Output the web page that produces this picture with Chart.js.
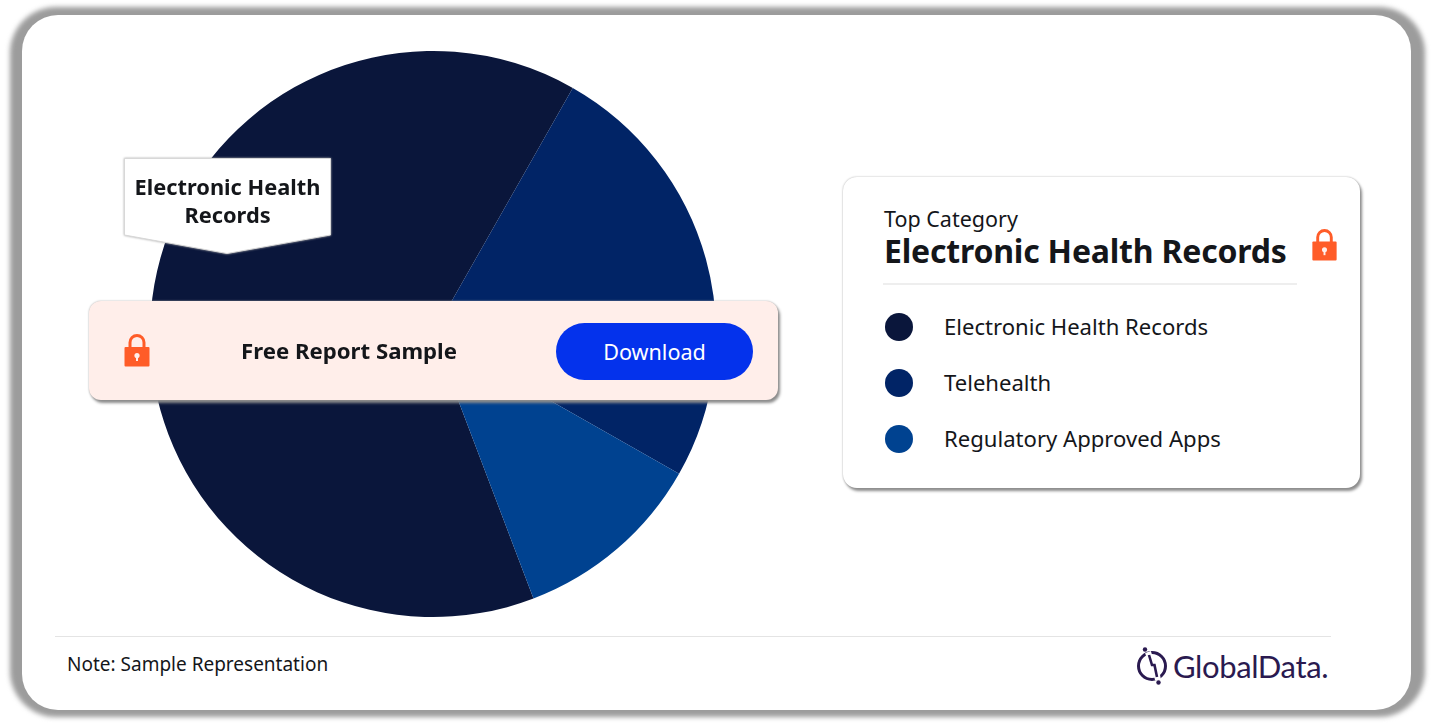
<!DOCTYPE html>
<html lang="en">
  <head>
    <title>Top Category</title>
    <meta charset="utf-8">
    <script src="https://cdn.jsdelivr.net/npm/chart.js@4"></script>
    <style>
      html, body { margin: 0; padding: 0; background: #fff; }
      body { width: 1433px; height: 726px; position: relative; overflow: hidden; font-family: "Noto Sans", sans-serif; color: #14161a; }
      body > div, body > svg, #pieWrap { position: absolute; }
      #frameShadow { left: 10px; top: 7px; width: 1415px; height: 710px; border-radius: 46px; background: #9c9c9c; filter: blur(2.5px); }
      #frame { left: 22px; top: 15px; width: 1389px; height: 695px; border-radius: 36px; background: #fff; }
      #pieWrap { left: 133px; top: 34px; width: 600px; height: 600px; }
      #callout { left: 124px; top: 158px; width: 207px; height: 96px; filter: drop-shadow(0 0 1px #aaa); }
      #calloutText { left: 124px; top: 173px; width: 207px; text-align: center; font-weight: 700; font-size: 21.8px; line-height: 28px; }
      #banner { left: 89px; top: 301px; width: 689px; height: 99px; border-radius: 12px; background: #ffeeea; box-shadow: 2px 3px 3px #8c8c8c, 0 0 2px #aaa; }
      #bannerText { left: 159px; top: 336px; width: 380px; text-align: center; font-weight: 700; font-size: 22.2px; line-height: 30px; }
      #download { left: 556px; top: 323px; width: 197px; height: 57px; border-radius: 29px; background: #0432ec; color: #fff; text-align: center; font-size: 21.6px; line-height: 57px; }
      #card { left: 843px; top: 177px; width: 517px; height: 311px; border-radius: 14px; background: #fff; box-shadow: 2px 3px 3px #8c8c8c, 0 0 2px #aaa; }
      #topLabel { left: 884px; top: 204px; font-size: 21.5px; line-height: 30px; }
      #topValue { left: 884px; top: 229px; font-size: 32px; line-height: 44px; font-weight: 700; white-space: nowrap; letter-spacing: -0.2px; }
      #cardRule { left: 883px; top: 283px; width: 414px; height: 2px; background: #eeeeee; }
      .legendDot { width: 28px; height: 28px; border-radius: 50%; left: 885px; }
      .legendText { left: 944px; font-size: 22.1px; line-height: 30px; white-space: nowrap; }
      #footRule { left: 55px; top: 636px; width: 1276px; height: 1px; background: #e4e4e4; }
      #note { left: 67px; top: 651px; font-size: 19px; line-height: 26px; }
      #logoText { left: 1173px; top: 644px; font-family: Lato, sans-serif; font-size: 31px; line-height: 44px; color: #2a1a50; letter-spacing: -0.4px; }
    </style>
  </head>
  <body>
    <div id="frameShadow"></div>
    <div id="frame"></div>
    <div id="pieWrap"><canvas id="chart_pie" width="600" height="600"></canvas></div>

    <svg id="callout" viewBox="0 0 207 96"><path d="M0.5 0.5H206.5V77L103 95.5L0.5 77Z" fill="#fff" stroke="#d8d8d8"/></svg>
    <div id="calloutText">Electronic Health<br>Records</div>

    <div id="banner"></div>
    <svg class="lock" style="left:124px;top:333px" width="26" height="34" viewBox="0 0 26 34"><use href="#lockIcon"/></svg>
    <div id="bannerText">Free Report Sample</div>
    <div id="download">Download</div>

    <div id="card"></div>
    <div id="topLabel">Top Category</div>
    <div id="topValue">Electronic Health Records</div>
    <svg class="lock" style="left:1311px;top:228px" width="27" height="33" viewBox="0 0 26 34"><use href="#lockIcon"/></svg>
    <div id="cardRule"></div>

    <div id="footRule"></div>
    <div id="note">Note: Sample Representation</div>
    <svg style="left:1134px;top:646px" width="38" height="40" viewBox="0 0 38 40">
      <circle cx="18" cy="20" r="13.5" fill="none" stroke="#2a1a50" stroke-width="3"/>
      <path d="M14 6L18 19H21L24 34" fill="none" stroke="#fff" stroke-width="6"/>
      <path d="M15 9L18 19H20.5L23 31" fill="none" stroke="#2a1a50" stroke-width="2.6"/>
      <circle cx="11" cy="3.5" r="2.2" fill="#2a1a50"/><circle cx="24.5" cy="36.5" r="2.2" fill="#2a1a50"/>
    </svg>
    <div id="logoText">GlobalData.</div>

    <svg width="0" height="0" style="left:0;top:0">
      <defs>
        <g id="lockIcon">
          <path d="M6 15V9.5a7 7 0 0 1 14 0V15" fill="none" stroke="#ff5c28" stroke-width="3"/>
          <rect x="0.5" y="14" width="25" height="19.5" rx="1" fill="#ff5c28"/>
          <circle cx="13" cy="22.5" r="2.6" fill="#ffeeea"/><rect x="12" y="23" width="2" height="5" fill="#ffeeea"/>
        </g>
      </defs>
    </svg>

    <script>
      // values (share of the pie)
      const categories = ["Electronic Health Records", "Telehealth", "Regulatory Approved Apps"];
      const shares = [64, 25, 11];
      const colours = ["#0a163b", "#012466", "#004290"];
      const legendRowTops = [313, 369, 425];

      categories.forEach(function (name, i) {
        const dot = document.createElement("div");
        dot.className = "legendDot";
        dot.style.top = legendRowTops[i] + "px";
        dot.style.background = colours[i];
        document.body.appendChild(dot);
        const text = document.createElement("div");
        text.className = "legendText";
        text.style.top = (legendRowTops[i] - 2.5) + "px";
        text.textContent = name;
        document.body.appendChild(text);
      });

      new Chart("chart_pie", {
        type: "pie",
        data: {
          labels: categories,
          datasets: [{
            data: shares,
            backgroundColor: colours,
            borderWidth: 0
          }]
        },
        options: {
          responsive: false,
          animation: false,
          rotation: 159.2,
          layout: { padding: 17 },
          plugins: { legend: { display: false }, tooltip: { enabled: false } }
        }
      });
    </script>
  </body>
</html>
